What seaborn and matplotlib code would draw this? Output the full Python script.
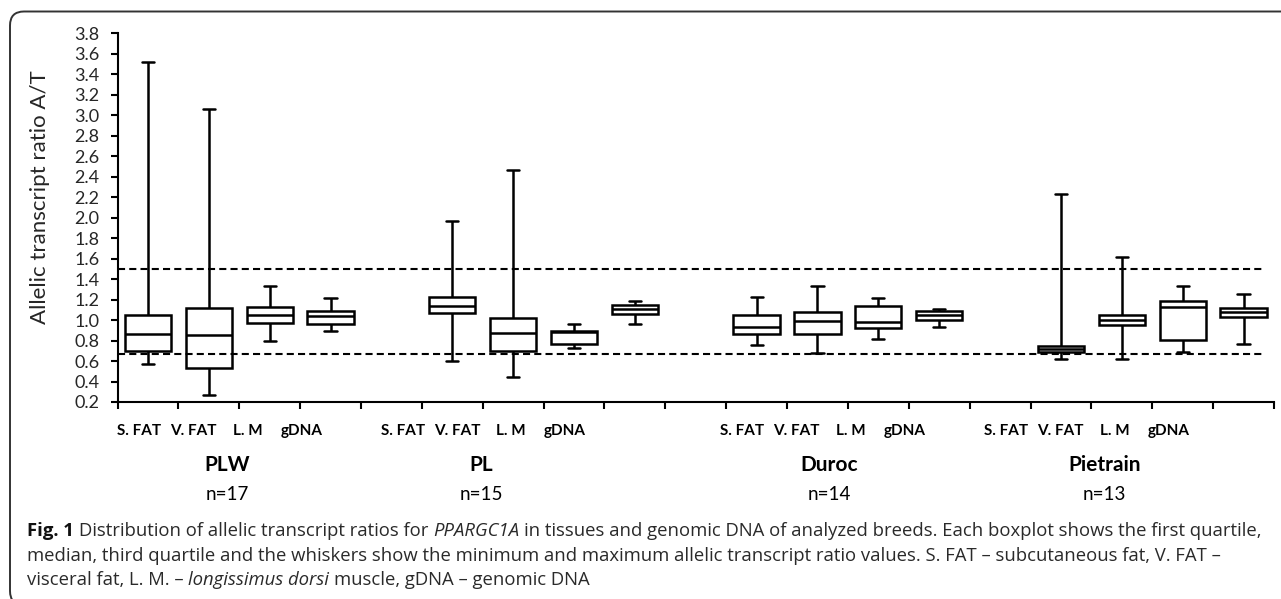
import numpy as np
import pandas as pd
import matplotlib
matplotlib.use('Agg')
import matplotlib.pyplot as plt
import matplotlib.transforms as mtransforms
from matplotlib.patches import FancyBboxPatch
import seaborn as sns

# five-number summaries (order: breed x tissue)
breeds = ['PLW', 'PL', 'Duroc', 'Pietrain']
n_counts = ['n=17', 'n=15', 'n=14', 'n=13']
tissues = ['S. FAT', 'V. FAT', 'L. M', 'gDNA']
mins    = [0.57, 0.27, 0.80, 0.89,  0.60, 0.44, 0.73, 0.96,  0.76, 0.68, 0.82, 0.93,  0.62, 0.62, 0.69, 0.77]
q1s     = [0.70, 0.53, 0.97, 0.96,  1.07, 0.70, 0.77, 1.06,  0.86, 0.86, 0.92, 1.00,  0.69, 0.95, 0.81, 1.03]
medians = [0.86, 0.85, 1.05, 1.04,  1.14, 0.87, 0.88, 1.11,  0.93, 0.99, 0.98, 1.05,  0.72, 1.00, 1.13, 1.08]
q3s     = [1.05, 1.12, 1.13, 1.09,  1.23, 1.02, 0.89, 1.15,  1.05, 1.08, 1.14, 1.09,  0.75, 1.05, 1.19, 1.12]
maxs    = [3.52, 3.06, 1.33, 1.22,  1.97, 2.47, 0.96, 1.19,  1.23, 1.33, 1.22, 1.11,  2.23, 1.62, 1.33, 1.25]
ref_lines = [1.5, 0.67]

# label anchor positions (data x) as they sit in the original figure
row_centers = [1.19, 5.52, 11.10, 15.44]
name_centers = [1.30, 5.47, 11.19, 15.71]
label_step = 0.89

sns.set_theme(style='ticks')
plt.rcParams['font.family'] = ['Lato', 'DejaVu Sans']

# long table: 5 points per box -> quartiles of 5 points are exactly q1/med/q3
rows = []
order = []
k = 0
for gi, b in enumerate(breeds):
    for t in tissues:
        key = b + ' ' + t
        order.append(key)
        for v in (mins[k], q1s[k], medians[k], q3s[k], maxs[k]):
            rows.append({'slot': key, 'ratio': v})
        k += 1
    if gi < len(breeds) - 1:
        order.append(' ' * (gi + 1))
df = pd.DataFrame(rows)

W, H = 1281, 599
fig = plt.figure(figsize=(W / 100, H / 100), dpi=100)
ax = fig.add_axes([117.5 / W, 1 - 402 / H, (1274 - 117.5) / W, (402 - 33.3) / H])

sns.boxplot(data=df, x='slot', y='ratio', order=order, whis=(0, 100), width=0.76,
            color='white', linecolor='black', linewidth=1.8, capwidths=0.2, ax=ax)

for y in ref_lines:
    ax.hlines(y, -0.5, 18.33, colors='black', linestyles=(0, (3.4, 2)), linewidth=1.5, zorder=5)

ax.set_ylim(0.2, 3.8)
ax.set_xlim(-0.5, 18.5)
yt = np.round(np.arange(0.2, 3.81, 0.2), 1)
ax.set_yticks(yt, [f'{v:.1f}' for v in yt])
ax.set_xticks(np.arange(-0.5, 19, 1), [''] * 20)
ax.tick_params(axis='x', direction='out', length=5, width=1.5, color='black')
ax.tick_params(axis='y', direction='out', length=5, width=1.5, color='black',
               labelsize=13, pad=8)
ax.set_xlabel('')
ax.set_ylabel('Allelic transcript ratio A/T', fontsize=16, va='center')
ax.yaxis.set_label_coords((40 - 117.5) / (1274 - 117.5), 0.555)

for s in ['top', 'right']:
    ax.spines[s].set_visible(False)
for s in ['left', 'bottom']:
    ax.spines[s].set_linewidth(1.5)
    ax.spines[s].set_color('black')

trans = mtransforms.blended_transform_factory(ax.transData, ax.transAxes)
for gi in range(len(breeds)):
    for j, t in enumerate(tissues):
        ax.text(row_centers[gi] + (j - 1.5) * label_step, -0.079, t, transform=trans,
                ha='center', va='center', fontsize=11, fontweight='bold', color='black')
    ax.text(name_centers[gi], -0.171, breeds[gi], transform=trans, ha='center',
            va='center', fontsize=15, fontweight='bold', color='black')
    ax.text(name_centers[gi], -0.252, n_counts[gi], transform=trans, ha='center',
            va='center', fontsize=13.5, color='black')

# caption
r = fig.canvas.get_renderer()
cap_font = ['Open Sans', 'DejaVu Sans']
cap_size = 13.3
cap_col = '#2a2a2a'
tmp1 = fig.text(0, 0, 'a a', family=cap_font, fontsize=cap_size)
tmp2 = fig.text(0, 0, 'aa', family=cap_font, fontsize=cap_size)
space_w = tmp1.get_window_extent(r).width - tmp2.get_window_extent(r).width
tmp1.remove()
tmp2.remove()

reg = dict(family=cap_font, fontsize=cap_size, color=cap_col)
bold = dict(family=cap_font, fontsize=cap_size, color='#111111', fontweight='bold')
ital = dict(family=cap_font, fontsize=cap_size, color=cap_col, style='italic')

caption = [
    [('Fig. 1', bold), (' Distribution of allelic transcript ratios for', reg), (' PPARGC1A', ital),
     (' in tissues and genomic DNA of analyzed breeds. Each boxplot shows the first quartile,', reg)],
    [('median, third quartile and the whiskers show the minimum and maximum allelic transcript '
      'ratio values. S. FAT \u2013 subcutaneous fat, V. FAT \u2013', reg)],
    [('visceral fat, L. M. \u2013', reg), (' longissimus dorsi', ital),
     (' muscle, gDNA \u2013 genomic DNA', reg)],
]
for li, pieces in enumerate(caption):
    x = 27.0
    yb = H - (536.5 + li * 24.2)
    for txt, kw in pieces:
        x += (len(txt) - len(txt.lstrip(' '))) * space_w
        t = fig.text(x / W, yb / H, txt.strip(), ha='left', va='baseline', **kw)
        x += t.get_window_extent(r).width

frame = FancyBboxPatch((10, -6), 1320, H - 11.5 + 6, boxstyle='round,pad=0,rounding_size=14',
                       transform=mtransforms.IdentityTransform(), fill=False,
                       edgecolor='#333333', linewidth=1.4)
fig.patches.append(frame)

fig.savefig('out.png', dpi=100)
